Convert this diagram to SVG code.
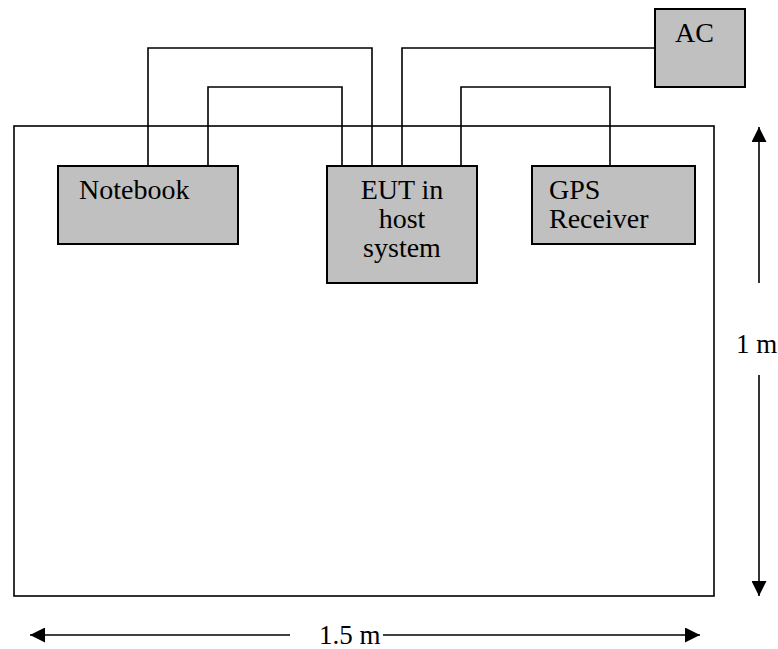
<svg xmlns="http://www.w3.org/2000/svg" width="778" height="649" viewBox="0 0 778 649">
<defs>
<style>
.box{fill:#C0C0C0;stroke:#000;stroke-width:2}
.wire{fill:none;stroke:#000;stroke-width:1.6}
.dim{fill:none;stroke:#000;stroke-width:1.6}
text{font-family:"Liberation Serif","Times New Roman",serif;font-size:28px;fill:#000}
text.d{font-size:27px}
</style>
<marker id="ah" viewBox="0 0 10 10" refX="10" refY="5" markerWidth="15" markerHeight="15" markerUnits="userSpaceOnUse" orient="auto-start-reverse">
<path d="M0,0 L10,5 L0,10 z" fill="#000"/>
</marker>
</defs>
<rect id="table" x="14" y="126" width="700" height="470" fill="none" stroke="#000" stroke-width="1.6"/>
<g id="connectors">
<polyline class="wire" points="148,166 148,48 372,48 372,166"/>
<polyline class="wire" points="208,166 208,87 342,87 342,166"/>
<polyline class="wire" points="402,166 402,48 655,48"/>
<polyline class="wire" points="461,166 461,87 610,87 610,166"/>
</g>
<g id="notebook">
<rect class="box" x="58" y="166" width="180" height="78"/>
<text x="79" y="199">Notebook</text>
</g>
<g id="eut">
<rect class="box" x="327" y="166" width="150" height="117"/>
<text x="402" y="199" text-anchor="middle">EUT in</text>
<text x="402" y="228" text-anchor="middle">host</text>
<text x="402" y="257" text-anchor="middle">system</text>
</g>
<g id="gps">
<rect class="box" x="532" y="166" width="163" height="78"/>
<text x="549" y="199">GPS</text>
<text x="549" y="228">Receiver</text>
</g>
<g id="ac">
<rect class="box" x="655" y="9" width="90" height="78"/>
<text x="675" y="42">AC</text>
</g>
<g id="dimensions">
<line class="dim" x1="759" y1="283" x2="759" y2="127" marker-end="url(#ah)"/>
<line class="dim" x1="759" y1="375" x2="759" y2="596" marker-end="url(#ah)"/>
<text class="d" x="736" y="353">1 m</text>
<line class="dim" x1="290" y1="635" x2="30" y2="635" marker-end="url(#ah)"/>
<line class="dim" x1="383" y1="635" x2="700" y2="635" marker-end="url(#ah)"/>
<text class="d" x="319" y="644">1.5 m</text>
</g>
</svg>
